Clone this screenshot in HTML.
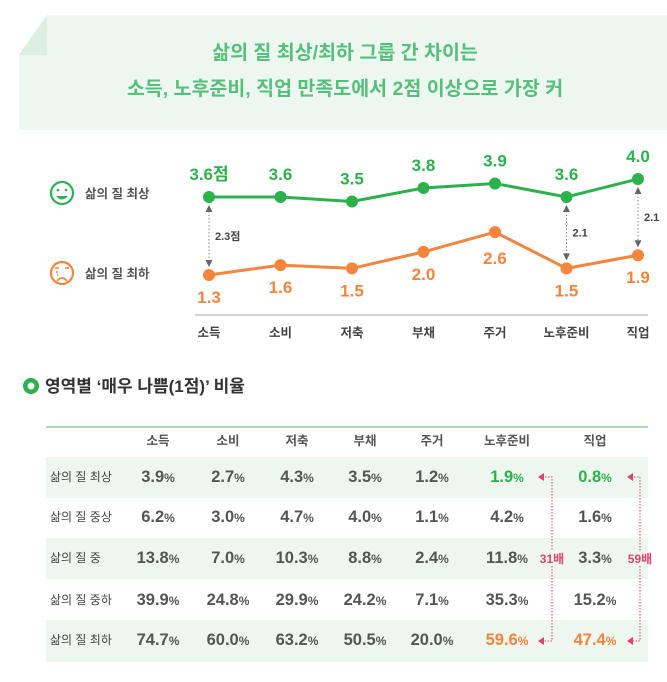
<!DOCTYPE html>
<html><head><meta charset="utf-8"><style>
body{margin:0;width:667px;height:682px;background:#fff;font-family:"Liberation Sans","Noto Sans CJK KR",sans-serif;overflow:hidden;position:relative}
.abs{position:absolute}
</style></head><body>
<svg class="abs" style="left:0;top:0" width="667" height="682">
  <g>
    <polygon points="47,15 667,15 667,130 19,130 19,55" fill="#edf7ef"/>
    <polygon points="47,15 47,55 19,55" fill="#dcefe2"/>
    <text x="345" y="59" text-anchor="middle" font-size="19.5" font-weight="bold" fill="#55c07c">삶의 질 최상/최하 그룹 간 차이는</text>
    <text x="345" y="95" text-anchor="middle" font-size="19.5" font-weight="bold" fill="#55c07c">소득, 노후준비, 직업 만족도에서 2점 이상으로 가장 커</text>
  </g>
  <g>
    <circle cx="62" cy="193" r="11" fill="none" stroke="#2bb24c" stroke-width="2.2"/>
    <circle cx="58" cy="190" r="1.3" fill="#2bb24c"/><circle cx="66" cy="190" r="1.3" fill="#2bb24c"/>
    <path d="M56,196 Q62,203 68,196 Z" fill="#2bb24c"/>
    <text x="85" y="198" font-size="12.5" font-weight="bold" fill="#555">삶의 질 최상</text>
    <circle cx="62" cy="273" r="11" fill="none" stroke="#f5843c" stroke-width="2.2"/>
    <path d="M55,268 h4 M65,268 h4 M56,272 h2 M57,275 h1" stroke="#f5843c" stroke-width="1.5"/>
    <path d="M57,281 Q62,275 67,281" fill="none" stroke="#f5843c" stroke-width="1.8"/>
    <text x="85" y="278" font-size="12.5" font-weight="bold" fill="#555">삶의 질 최하</text>
  </g>
  <line x1="195" y1="315" x2="648" y2="315" stroke="#bbb" stroke-width="1.2"/>
  <g id="chart"></g>
  <g id="arrows"></g>
  <g>
    <circle cx="31" cy="386" r="8" fill="#2bb24c"/><circle cx="31" cy="386" r="3.5" fill="#fff"/>
    <text x="45" y="392" font-size="17" font-weight="bold" fill="#333">영역별 ‘매우 나쁨(1점)’ 비율</text>
  </g>
  <g id="table"></g>
</svg>
<script>
const categories=["소득","소비","저축","부채","주거","노후준비","직업"];
const topValues=[3.6,3.6,3.5,3.8,3.9,3.6,4.0];
const bottomValues=[1.3,1.6,1.5,2.0,2.6,1.5,1.9];
const topLabels=["3.6점","3.6","3.5","3.8","3.9","3.6","4.0"];
const rowLabels=["삶의 질 최상","삶의 질 중상","삶의 질 중","삶의 질 중하","삶의 질 최하"];
const tableValues=[
 [3.9,2.7,4.3,3.5,1.2,1.9,0.8],
 [6.2,3.0,4.7,4.0,1.1,4.2,1.6],
 [13.8,7.0,10.3,8.8,2.4,11.8,3.3],
 [39.9,24.8,29.9,24.2,7.1,35.3,15.2],
 [74.7,60.0,63.2,50.5,20.0,59.6,47.4]];
const NS="http://www.w3.org/2000/svg";
function mk(t,a,p){const e=document.createElementNS(NS,t);for(const k in a)e.setAttribute(k,a[k]);p.appendChild(e);return e;}
const xs=i=>209+i*71.5;
const yTop=v=>197-(v-3.6)*45;
const yBot=v=>275-(v-1.3)*33;
const g=document.getElementById('chart');
function series(vals,yf,col,name){
  const pl=mk('polyline',{points:vals.map((v,i)=>xs(i)+','+yf(v)).join(' '),fill:'none',stroke:col,'stroke-width':3},g);
  
  
  vals.forEach((v,i)=>{const c=mk('circle',{cx:xs(i),cy:yf(v),r:6,fill:col},g);
    
    });
}
series(topValues,yTop,'#2bb24c','top-series');
series(bottomValues,yBot,'#f5843c','bottom-series');
topValues.forEach((v,i)=>{const t=mk('text',{x:xs(i),y:yTop(v)-17,'text-anchor':'middle','font-size':17,'font-weight':'bold',fill:'#2bb24c'},g);
  t.textContent=topLabels[i];
  
  });
bottomValues.forEach((v,i)=>{
  const t=mk('text',{x:xs(i),y:yBot(v)+(i==4?32:28),'text-anchor':'middle','font-size':17,'font-weight':'bold',fill:'#f5843c'},g);
  t.textContent=v.toFixed(1);
  
  });
categories.forEach((c,i)=>{const t=mk('text',{x:xs(i),y:337,'text-anchor':'middle','font-size':12.5,'font-weight':'bold',fill:'#444'},g);
  t.textContent=c;
  
  });
const ag=document.getElementById('arrows');
[[0,'2.3점'],[5,'2.1'],[6,'2.1']].forEach(([i,l])=>{
  const x=xs(i),y1=yTop(topValues[i])+8,y2=yBot(bottomValues[i])-8;
  mk('line',{x1:x,y1:y1+6,x2:x,y2:y2-6,stroke:'#888','stroke-dasharray':'1.5,2'},ag);
  mk('polygon',{points:`${x-3.5},${y1+7} ${x+3.5},${y1+7} ${x},${y1}`,fill:'#666'},ag);
  mk('polygon',{points:`${x-3.5},${y2-7} ${x+3.5},${y2-7} ${x},${y2}`,fill:'#666'},ag);
  const t=mk('text',{x:x+6,y:(y1+y2)/2+4,'font-size':11,'font-weight':'bold',fill:'#444'},ag);t.textContent=l;});
const tg=document.getElementById('table');
const colX=[158,228,297,365,432,507,595];
mk('line',{x1:46,y1:427,x2:648,y2:427,stroke:'#a8dcb6','stroke-width':2},tg);
categories.forEach((c,i)=>{const t=mk('text',{x:colX[i],y:445,'text-anchor':'middle','font-size':12.5,'font-weight':'bold',fill:'#555'},tg);
  t.textContent=c;
  
  });
const rowTop=[457,497,538,580,620];
rowLabels.forEach((r,ri)=>{
  if(ri%2==0)mk('rect',{x:46,y:rowTop[ri],width:602,height:ri==4?42:41,fill:'#edf7ef'},tg);
  const cy=rowTop[ri]+25;
  const l=mk('text',{x:50,y:cy-1,'font-size':12,fill:'#444'},tg);l.textContent=r;
  
  
  tableValues[ri].forEach((v,ci)=>{
    let col='#555';if(ci>=5&&ri==0)col='#2bb24c';if(ci>=5&&ri==4)col='#f5843c';
    const t=mk('text',{x:colX[ci],y:cy,'text-anchor':'middle','font-size':16.5,'font-weight':'bold',fill:col},tg);
    t.textContent=v.toFixed(1);
    const s=mk('tspan',{'font-size':12},t);s.textContent='%';
    
    
  });
});
[[552,'31배'],[640,'59배']].forEach(([x,l],k)=>{
  const ax=k==0?538:627;
  const y1=rowTop[0]+20,y2=rowTop[4]+21;
  mk('path',{d:`M${ax+4},${y1} H${x} V${551} M${x},${566} V${y2} H${ax+4}`,fill:'none',stroke:'#e0436a','stroke-dasharray':'1.5,1.5'},tg);
  mk('polygon',{points:`${ax},${y1} ${ax+6},${y1-4} ${ax+6},${y1+4}`,fill:'#e0436a'},tg);
  mk('polygon',{points:`${ax},${y2} ${ax+6},${y2-4} ${ax+6},${y2+4}`,fill:'#e0436a'},tg);
  const t=mk('text',{x:x,y:563,'text-anchor':'middle','font-size':12,'font-weight':'bold',fill:'#e0436a'},tg);t.textContent=l;
});
</script>
</body></html>
